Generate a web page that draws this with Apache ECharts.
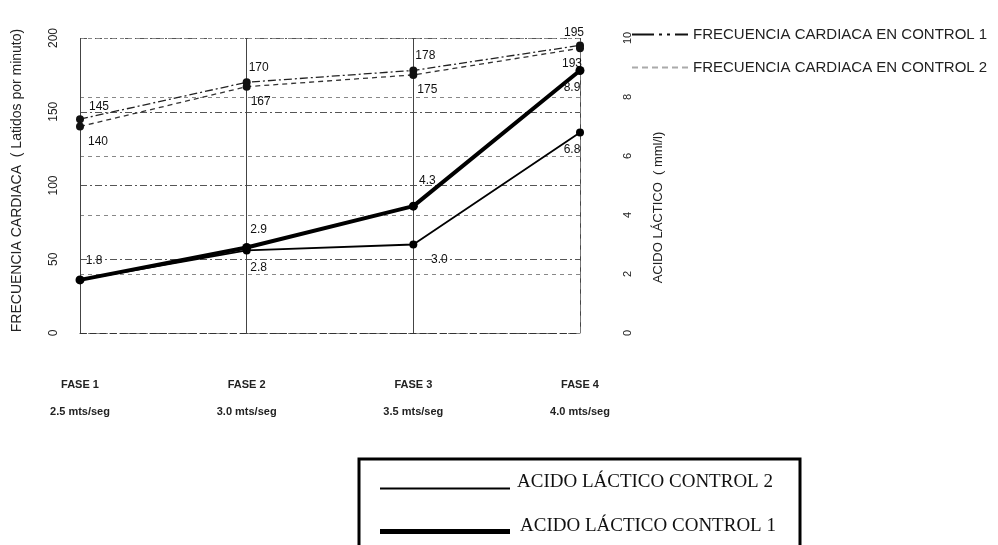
<!DOCTYPE html>
<html>
<head>
<meta charset="utf-8">
<script src="https://cdn.jsdelivr.net/npm/echarts@6/dist/echarts.min.js"></script>
<style>
  html, body { margin: 0; padding: 0; background: #fff; }
  #chart { width: 998px; height: 545px; }
</style>
</head>
<body>
<div id="chart"></div>
<script>
const phases = ['FASE 1', 'FASE 2', 'FASE 3', 'FASE 4'];
const speeds = ['2.5 mts/seg', '3.0 mts/seg', '3.5 mts/seg', '4.0 mts/seg'];
const hrTicks = [0, 50, 100, 150, 200];
const lacticTicks = [0, 2, 4, 6, 8, 10];

const hrControl1 = [145, 170, 178, 195];
const hrControl2 = [140, 167, 175, 193];
const lacticControl1 = [1.8, 2.9, 4.3, 8.9];
const lacticControl2 = [1.8, 2.8, 3.0, 6.8];

const categories = phases.map((p, i) => p + '\n' + speeds[i]);

// label placement per point (style only)
const hr1Labels = [['right', [0, -12]], ['top', [12, 0]], ['top', [12, 0]], ['top', [-6, 2]]];
const hr2Labels = [['bottom', [18, 0]], ['bottom', [14, 0]], ['bottom', [14, 0]], ['bottom', [-8, 0]]];
const lac1Labels = [['top', [14, -4]], ['top', [12, -2]], ['top', [14, -10]], ['bottom', [-8, 2]]];
const lac2Labels = [null, ['bottom', [12, 2]], ['bottom', [26, 0]], ['bottom', [-8, 2]]];

const withLabels = (values, places) => values.map((v, i) => {
  const p = places[i];
  if (!p) return { value: v, label: { show: false } };
  return { value: v, label: { show: true, position: p[0], offset: p[1] } };
});

const labelFont = { color: '#111', fontSize: 12, fontFamily: 'Liberation Sans' };
const serif = { fontSize: 19, color: '#111', fontFamily: 'Liberation Serif' };

const myChart = echarts.init(document.getElementById('chart'));

const option = {
  backgroundColor: '#fff',
  animation: false,
  grid: { left: 80, right: 418, top: 38, bottom: 212 },
  xAxis: {
    type: 'category',
    data: categories,
    boundaryGap: false,
    axisLine: { lineStyle: { color: '#333', type: [6, 4] } },
    axisTick: { show: false },
    axisLabel: {
      margin: 38,
      lineHeight: 27,
      fontSize: 11,
      fontWeight: 'bold',
      color: '#222',
      fontFamily: 'Liberation Sans'
    },
    splitLine: { show: true, lineStyle: { color: '#444', width: 1 } }
  },
  yAxis: [
    {
      type: 'value',
      min: 0,
      max: 200,
      interval: 50,
      name: 'FRECUENCIA CARDIACA  ( Latidos por minuto)',
      nameLocation: 'middle',
      nameRotate: 90,
      nameGap: 56,
      nameTextStyle: { fontSize: 14, color: '#222', fontFamily: 'Liberation Sans', padding: [0, 0, 0, 10] },
      axisLine: { show: false },
      axisTick: { show: false },
      axisLabel: {
        rotate: 90,
        margin: 20,
        fontSize: 12,
        color: '#222',
        fontFamily: 'Liberation Sans',
        formatter: v => hrTicks.includes(v) ? String(v) : ''
      },
      splitLine: { lineStyle: { color: '#555', type: [7, 3, 2, 3] } }
    },
    {
      type: 'value',
      min: 0,
      max: 10,
      interval: 2,
      position: 'right',
      name: 'ACIDO LÁCTICO  ( mml/l)',
      nameLocation: 'middle',
      nameRotate: 90,
      nameGap: 72,
      nameTextStyle: { fontSize: 13, color: '#222', fontFamily: 'Liberation Sans', padding: [0, 44, 0, 0] },
      axisLine: { show: true, lineStyle: { color: '#777', type: [6, 5] } },
      axisTick: { show: false },
      axisLabel: {
        rotate: 90,
        margin: 42,
        fontSize: 11,
        color: '#222',
        fontFamily: 'Liberation Sans',
        formatter: v => lacticTicks.includes(v) ? String(v) : ''
      },
      splitLine: { show: true, lineStyle: { color: '#888', type: [4, 4] } }
    }
  ],
  legend: [
    {
      orient: 'vertical',
      left: 632,
      top: 27,
      padding: 0,
      itemWidth: 56,
      itemHeight: 2,
      itemGap: 18,
      textStyle: { fontSize: 15, color: '#222', fontFamily: 'Liberation Sans' },
      data: [
        { name: 'FRECUENCIA CARDIACA EN CONTROL 1', icon: 'path://M0,0H22V2H0Z M27,0H30V2H27Z M35,0H38V2H35Z M43,0H56V2H43Z' },
        { name: 'FRECUENCIA CARDIACA EN CONTROL 2', icon: 'path://M0,0H6V2H0Z M10,0H16V2H10Z M20,0H26V2H20Z M30,0H36V2H30Z M40,0H46V2H40Z M50,0H56V2H50Z', itemStyle: { color: '#aaa' } }
      ]
    },
    {
      left: 375,
      top: 468,
      itemWidth: 130,
      itemHeight: 2,
      icon: 'rect',
      formatter: '{t|{name}}',
      textStyle: { rich: { t: Object.assign({ padding: [0, 0, 12, 2] }, serif) } },
      data: ['ACIDO LÁCTICO CONTROL 2']
    },
    {
      left: 375,
      top: 512,
      itemWidth: 130,
      itemHeight: 5,
      icon: 'rect',
      formatter: '{t|{name}}',
      textStyle: { rich: { t: Object.assign({ padding: [0, 0, 10, 5] }, serif) } },
      data: ['ACIDO LÁCTICO CONTROL 1']
    }
  ],
  graphic: [
    {
      type: 'rect',
      shape: { x: 359, y: 459, width: 441, height: 100 },
      style: { fill: 'none', stroke: '#000', lineWidth: 3 },
      silent: true
    }
  ],
  series: [
    {
      name: 'FRECUENCIA CARDIACA EN CONTROL 1',
      type: 'line',
      yAxisIndex: 0,
      data: withLabels(hrControl1, hr1Labels),
      symbol: 'circle',
      symbolSize: 8,
      itemStyle: { color: '#111' },
      lineStyle: { color: '#222', width: 1.3, type: [8, 3, 2, 3] },
      label: labelFont
    },
    {
      name: 'FRECUENCIA CARDIACA EN CONTROL 2',
      type: 'line',
      yAxisIndex: 0,
      data: withLabels(hrControl2, hr2Labels),
      symbol: 'circle',
      symbolSize: 8,
      itemStyle: { color: '#111' },
      lineStyle: { color: '#333', width: 1.3, type: [5, 4] },
      label: labelFont
    },
    {
      name: 'ACIDO LÁCTICO CONTROL 1',
      type: 'line',
      yAxisIndex: 1,
      data: withLabels(lacticControl1, lac1Labels),
      symbol: 'circle',
      symbolSize: 9,
      itemStyle: { color: '#000' },
      lineStyle: { color: '#000', width: 4 },
      label: Object.assign({ formatter: p => p.value.toFixed(1) }, labelFont),
      z: 5
    },
    {
      name: 'ACIDO LÁCTICO CONTROL 2',
      type: 'line',
      yAxisIndex: 1,
      data: withLabels(lacticControl2, lac2Labels),
      symbol: 'circle',
      symbolSize: 8,
      itemStyle: { color: '#000' },
      lineStyle: { color: '#000', width: 1.8 },
      label: Object.assign({ formatter: p => p.value.toFixed(1) }, labelFont),
      z: 4
    }
  ]
};

myChart.setOption(option);
</script>
</body>
</html>
